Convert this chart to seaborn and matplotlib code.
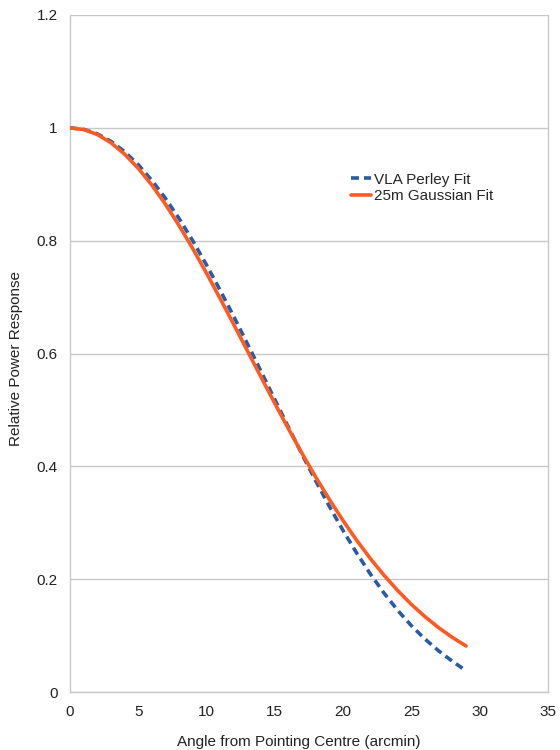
import pandas as pd
import matplotlib
matplotlib.use("Agg")
import matplotlib.pyplot as plt
import seaborn as sns

# angle from pointing centre (arcmin)
angle = list(range(0, 30))

# VLA Perley fit (blue dashed)
vla_perley = [1.0, 0.9973, 0.9893, 0.9761, 0.9577, 0.9345, 0.9067, 0.8746,
              0.8387, 0.7993, 0.7568, 0.7119, 0.6651, 0.6167, 0.5676, 0.5182,
              0.4690, 0.4207, 0.3738, 0.3287, 0.2860, 0.2459, 0.2089, 0.1751,
              0.1446, 0.1175, 0.0937, 0.0728, 0.0544, 0.0378]

# 25m Gaussian fit (orange solid)
gauss_25m = [1.0, 0.9970, 0.9882, 0.9735, 0.9534, 0.9282, 0.8983, 0.8641,
             0.8263, 0.7855, 0.7422, 0.6972, 0.6510, 0.6043, 0.5576, 0.5114,
             0.4663, 0.4226, 0.3807, 0.3410, 0.3036, 0.2686, 0.2363, 0.2067,
             0.1797, 0.1552, 0.1334, 0.1139, 0.0967, 0.0816]

series_names = ["VLA Perley Fit", "25m Gaussian Fit"]
y_ticks = [0, 0.2, 0.4, 0.6, 0.8, 1.0, 1.2]
y_tick_labels = ["0", "0.2", "0.4", "0.6", "0.8", "1", "1.2"]
x_ticks = [0, 5, 10, 15, 20, 25, 30, 35]

df = pd.DataFrame({"angle": angle, series_names[0]: vla_perley, series_names[1]: gauss_25m})
df = df.melt(id_vars="angle", var_name="fit", value_name="response")

sns.set_theme(style="white")
plt.rcParams["font.family"] = ["Liberation Sans", "DejaVu Sans"]

fig = plt.figure(figsize=(5.6, 7.5), dpi=100)
ax = fig.add_axes([0.125, 0.0773, 0.8536, 0.9027])

grid_col = "#c8c8c8"
text_col = "#222222"
for y in y_ticks:
    ax.axhline(y, color=grid_col, lw=1.0, zorder=0)

sns.lineplot(data=df, x="angle", y="response", hue="fit", style="fit",
             palette={series_names[0]: "#2a5ba6", series_names[1]: "#ff5a1f"},
             dashes={series_names[0]: (2.2, 1.4), series_names[1]: ""},
             linewidth=2.6, ax=ax, zorder=3)
# orange goes under the blue dashes
for line in ax.get_lines():
    if line.get_label() == series_names[1]:
        line.set_zorder(2)

ax.set_xlim(0, 35)
ax.set_ylim(0, 1.2)
ax.set_xticks(x_ticks)
ax.set_xticklabels([str(t) for t in x_ticks])
ax.set_yticks(y_ticks)
ax.set_yticklabels(y_tick_labels)
ax.tick_params(axis="both", labelsize=11, length=5, width=1, color=grid_col,
               labelcolor=text_col, direction="out", pad=4)

for side in ["left", "bottom", "right"]:
    ax.spines[side].set_visible(True)
    ax.spines[side].set_color(grid_col)
    ax.spines[side].set_linewidth(1.0)
ax.spines["top"].set_visible(False)

ax.set_xlabel("Angle from Pointing Centre (arcmin)", fontsize=11, color=text_col)
ax.set_ylabel("Relative Power Response", fontsize=11, color=text_col)
ax.xaxis.set_label_coords(0.479, -0.064)
ax.yaxis.set_label_coords(-0.098, 0.492)

leg = ax.legend(loc="upper left", bbox_to_anchor=(0.575, 0.776), frameon=False,
                fontsize=11, handlelength=1.3, handletextpad=0.2,
                labelspacing=0.15, borderaxespad=0)
for h in leg.get_lines():
    h.set_linewidth(2.6)

fig.savefig("out.png", dpi=100)
